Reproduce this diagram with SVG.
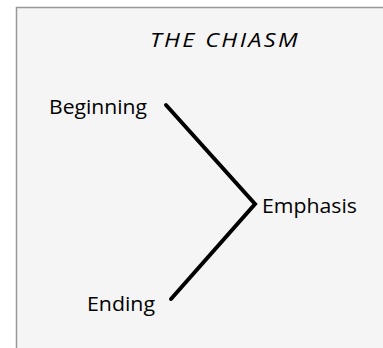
<svg xmlns="http://www.w3.org/2000/svg" width="383" height="348" viewBox="0 0 383 348">
<style>
.lbl{font-family:"Open Sans","Liberation Sans",sans-serif;font-size:20.5px;fill:#000}
.title{font-family:"Open Sans","Liberation Sans",sans-serif;font-size:20px;font-style:italic;letter-spacing:2px;fill:#000}
.conn{fill:none;stroke:#000;stroke-width:4;stroke-linejoin:miter;stroke-linecap:round}
</style>
<rect x="0" y="0" width="383" height="348" fill="#ffffff"/>
<rect x="16.5" y="7.5" width="380" height="360" fill="#f5f5f5" stroke="#999999" stroke-width="1.5"/>
<text class="title" x="225" y="47" text-anchor="middle" textLength="150" lengthAdjust="spacingAndGlyphs">THE CHIASM</text>
<g id="connectors">
<polyline class="conn" points="166,105 255,204 171,299"/>
</g>
<g id="beginning"><text class="lbl" x="49" y="114" textLength="98" lengthAdjust="spacingAndGlyphs">Beginning</text></g>
<g id="emphasis"><text class="lbl" x="262" y="213" textLength="95" lengthAdjust="spacingAndGlyphs">Emphasis</text></g>
<g id="ending"><text class="lbl" x="87" y="311" textLength="68" lengthAdjust="spacingAndGlyphs">Ending</text></g>
</svg>
